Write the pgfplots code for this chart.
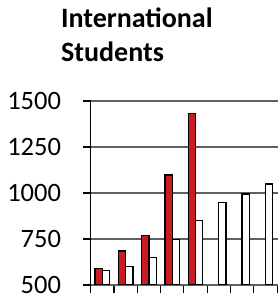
\documentclass[border=0pt]{standalone}
\usepackage{pgfplots}
\pgfplotsset{compat=1.18}
\usepackage{fontspec}
\setmainfont{Carlito}
\definecolor{barred}{RGB}{200,28,32}
\definecolor{gridgray}{RGB}{95,95,95}
\begin{document}
\begin{tikzpicture}
\path[use as bounding box] (0pt,0pt) rectangle (278pt,303pt);
\clip (0pt,0pt) rectangle (278pt,303pt);
\node[anchor=base west, inner sep=0pt, font=\fontsize{28}{34}\selectfont\bfseries] at (61pt,275.7pt) {International};
\node[anchor=base west, inner sep=0pt, font=\fontsize{28}{34}\selectfont\bfseries] at (61pt,241.3pt) {Students};
\begin{axis}[
  at={(90.7pt,18pt)}, anchor=south west,
  scale only axis, width=187.3pt, height=184pt,
  xmin=-0.5, xmax=7.54, ymin=500, ymax=1500,
  axis x line*=bottom, axis y line*=left,
  axis line style={-, black, line width=1.2pt},
  x axis line style={gridgray, line width=1.4pt},
  ytick={500,750,1000,1250,1500},
  xtick={-0.5,0.5,...,7.5},
  xticklabels={},
  tick align=outside, major tick length=8pt,
  tick style={black, line width=1.1pt},
  ymajorgrids, grid style={gridgray, line width=1.4pt},
  yticklabel style={font=\fontsize{26.5}{26.5}\selectfont, anchor=east, inner sep=0pt, xshift=-21.5pt},
  /pgf/number format/assume math mode=true,
  /pgf/number format/1000 sep={},
  ybar=0pt, bar width=7.3pt,
]
\addplot[fill=barred, draw=black, line width=1.3pt] coordinates {(0,589)(1,685)(2,770)(3,1098)(4,1433)};
\addplot[fill=white, draw=black, line width=1.3pt] coordinates {(0,578)(1,600)(2,650)(3,748)(4,852)(5,949)(6,995)(7,1049)};
\end{axis}
\end{tikzpicture}
\end{document}
